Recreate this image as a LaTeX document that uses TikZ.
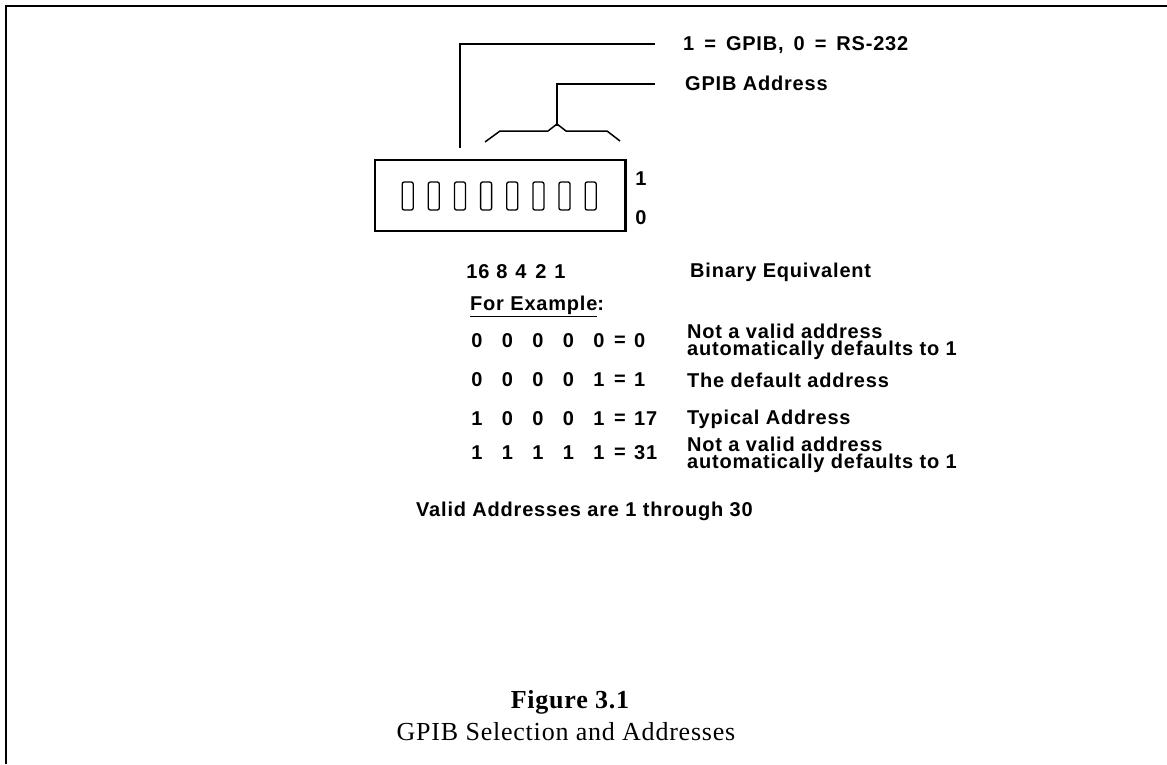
\documentclass[tikz,border=0pt]{standalone}
\usepackage{fontspec}
\setmainfont{Liberation Sans}
\newfontfamily\lblfont[LetterSpace=4]{Liberation Sans}
\newfontfamily\capfont[LetterSpace=3]{Liberation Serif}
\newcommand\lblsize{\lblfont\bfseries\fontsize{20}{21}\selectfont}
\newcommand\capsize{\capfont\fontsize{26}{28}\selectfont}
\begin{document}
\begin{tikzpicture}[x=1pt,y=-1pt,
  frame/.style={line width=2pt},
  lead/.style={line width=1.5pt},
  lbl/.style={font=\lblsize, inner sep=0pt, anchor=west},
  dig/.style={font=\lblsize, inner sep=0pt, anchor=center},
  captxt/.style={font=\capsize, inner sep=0pt, anchor=center},
  sw/.style={draw, line width=1.3pt, rounded corners=2pt, minimum width=11pt, minimum height=28pt, inner sep=0pt},
  dipbox/.style={draw, line width=1.5pt, minimum width=250pt, minimum height=71pt, inner sep=0pt}]
\useasboundingbox (0,0) rectangle (1167,764);
% frame (open at right and bottom)
\coordinate (fb) at (6,764);
\coordinate (ftl) at (6,6);
\coordinate (fr) at (1167,6);
\draw[frame] (fb) -- (ftl) -- (fr);
% DIP switch box
\node[dipbox] (box) at (500,195.5) {};
\draw[line width=2.5pt] (box.north east) -- (box.south east);
\foreach \i in {1,...,8} {
  \node[sw] (s\i) at ({407.7+26.14*(\i-1)},196) {};
}
\node[dig] (one) at (641,179) {1};
\node[dig] (zero) at (641,218) {0};
% leader for GPIB / RS-232
\node[lbl] (gpibsel) at (683,45) {1\enspace=\enspace GPIB,\enspace 0\enspace=\enspace RS-232};
\coordinate (l1a) at (460,148);
\coordinate (l1b) at (460,44);
\coordinate (l1c) at (655,44);
\draw[lead] (l1a) -- (l1b) -- (l1c);
% leader for GPIB address
\node[lbl] (gpibaddr) at (685,83) {GPIB Address};
\coordinate (l2a) at (557,126);
\coordinate (l2b) at (557,84);
\coordinate (l2c) at (655,84);
\draw[lead] (l2a) -- (l2b) -- (l2c);
% brace
\coordinate (b1) at (485,142);
\coordinate (b2) at (500,131);
\coordinate (b3) at (548,131);
\coordinate (b4) at (557,124);
\coordinate (b5) at (566,131);
\coordinate (b6) at (607,131);
\coordinate (b7) at (620,141);
\draw[lead, line join=round] (b1) -- (b2) -- (b3) -- (b4) -- (b5) -- (b6) -- (b7);
% header
\foreach \t/\x [count=\c] in {16/478,8/502,4/521,2/541,1/560} {
  \node[dig] (h\c) at (\x,272) {\t};
}
\node[lbl] (bineq) at (690,272) {Binary Equivalent};
\node[lbl] (forex) at (470,306) {\underline{For Example}:};
% rows
\newcommand\digrow[4]{%
  \foreach \t [count=\c] in {#2} {
    \node[dig] (#1c\c) at ({477+30.5*(\c-1)},#3) {\t};
  }
  \node[dig] (#1eq) at (620,#3) {=};
  \node[lbl] (#1res) at (634,#3) {#4};
}
\digrow{ra}{0,0,0,0,0}{341}{0}
\digrow{rb}{0,0,0,0,1}{380}{1}
\digrow{rc}{1,0,0,0,1}{419}{17}
\digrow{rd}{1,1,1,1,1}{453}{31}
\node[lbl] (da1) at (687,331) {Not a valid address};
\node[lbl] (da2) at (687,350) {automatically defaults to 1};
\node[lbl] (db) at (687,380) {The default address};
\node[lbl] (dc) at (687,419) {Typical Address};
\node[lbl] (dd1) at (687,444) {Not a valid address};
\node[lbl] (dd2) at (687,463) {automatically defaults to 1};
\node[lbl] (valid) at (416,511) {Valid Addresses are 1 through 30};
% caption
\node[captxt] (fig) at (570,702) {\bfseries Figure 3.1};
\node[captxt] (title) at (566,732) {GPIB Selection and Addresses};
\end{tikzpicture}
\end{document}
